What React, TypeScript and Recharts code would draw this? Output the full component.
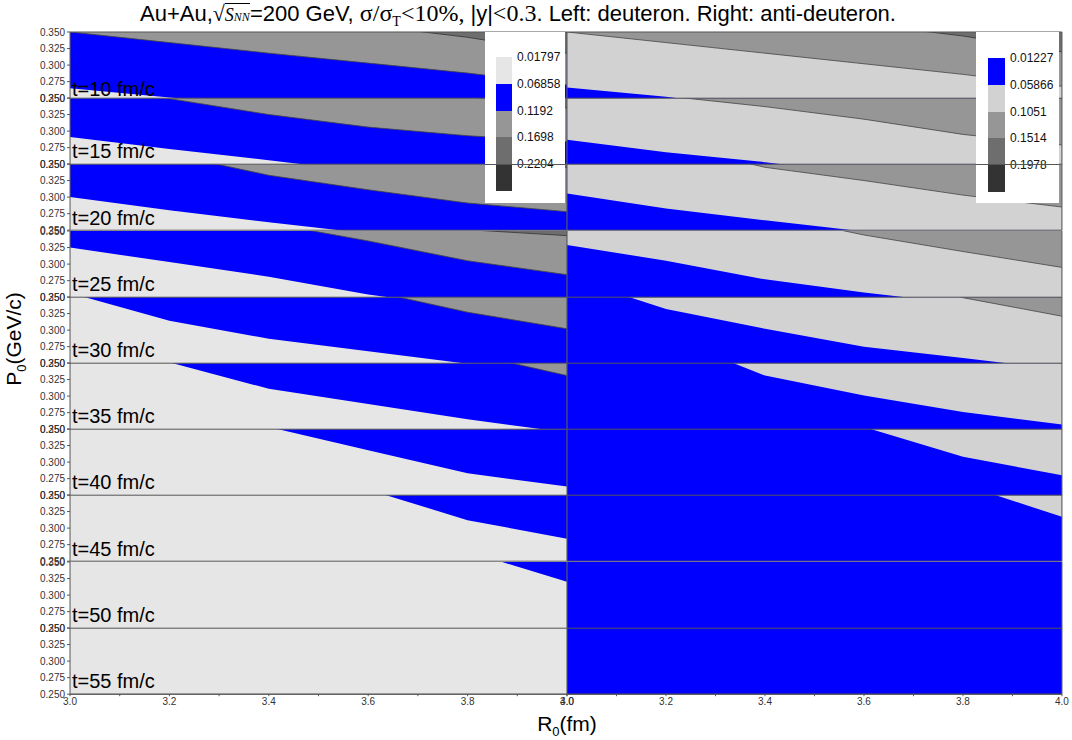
import React from 'react';
import { ComposedChart, Area, XAxis, YAxis, ReferenceLine } from 'recharts';

// ---------- data ----------
const R0 = [3.0, 3.2, 3.4, 3.6, 3.8, 4.0];
const R0_TICKS = [3.0, 3.1, 3.2, 3.3, 3.4, 3.5, 3.6, 3.7, 3.8, 3.9, 4.0];
const P0_TICKS = [0.25, 0.275, 0.3, 0.325, 0.35];
const TIMES = [10, 15, 20, 25, 30, 35, 40, 45, 50, 55];

type B = number[] | null;

// deuteron (left): contour boundaries P0(R0) per time slice
const dLightBlue: B[] = [
  [0.265, 0.251, 0.238, 0.224, 0.21, 0.2],
  [0.291, 0.273, 0.256, 0.238, 0.22, 0.2],
  [0.3, 0.28, 0.262, 0.245, 0.23, 0.215],
  [0.325, 0.303, 0.281, 0.254, 0.234, 0.215],
  [0.356, 0.314, 0.287, 0.268, 0.249, 0.235],
  [0.4, 0.351, 0.311, 0.288, 0.265, 0.245],
  [0.45, 0.4, 0.353, 0.318, 0.283, 0.263],
  [0.55, 0.5, 0.45, 0.358, 0.312, 0.284],
  [0.7, 0.6, 0.5, 0.42, 0.366, 0.32],
  null,
];
const dBlueGray: B[] = [
  [0.35, 0.334, 0.318, 0.303, 0.288, 0.27],
  [0.37, 0.349, 0.325, 0.306, 0.293, 0.284],
  [0.4, 0.365, 0.333, 0.311, 0.291, 0.278],
  [0.44, 0.41, 0.362, 0.335, 0.305, 0.284],
  [0.5, 0.45, 0.4, 0.36, 0.327, 0.302],
  [0.6, 0.55, 0.5, 0.42, 0.365, 0.331],
  null,
  null,
  null,
  null,
];
const dGrayDark: B[] = [
  [0.42, 0.4, 0.38, 0.36, 0.342, 0.318],
  [0.45, 0.42, 0.4, 0.37, 0.352, 0.335],
  [0.5, 0.45, 0.42, 0.39, 0.357, 0.345],
  [0.5, 0.45, 0.4, 0.37, 0.352, 0.343],
  null,
  null,
  null,
  null,
  null,
  null,
];

// anti-deuteron (right)
const aBlueLight: B[] = [
  [0.266, 0.252, 0.235, 0.22, 0.2, 0.19],
  [0.287, 0.268, 0.253, 0.235, 0.22, 0.2],
  [0.3056, 0.2828, 0.265, 0.248, 0.23, 0.21],
  [0.329, 0.305, 0.277, 0.257, 0.24, 0.22],
  [0.38, 0.332, 0.302, 0.275, 0.258, 0.24],
  [0.45, 0.39, 0.331, 0.301, 0.276, 0.257],
  [0.6, 0.5, 0.42, 0.353, 0.308, 0.28],
  [0.8, 0.7, 0.6, 0.5, 0.366, 0.317],
  null,
  null,
];
const aLightGray: B[] = [
  [0.35, 0.334, 0.318, 0.302, 0.286, 0.268],
  [0.39, 0.353, 0.337, 0.318, 0.295, 0.279],
  [0.42, 0.38, 0.345, 0.325, 0.303, 0.285],
  [0.45, 0.41, 0.375, 0.344, 0.319, 0.295],
  [0.6, 0.5, 0.45, 0.4, 0.349, 0.321],
  null,
  null,
  null,
  null,
  null,
];
const aGrayDark: B[] = [
  [0.5, 0.45, 0.4, 0.362, 0.344, 0.32],
  null,
  null,
  null,
  null,
  null,
  null,
  null,
  null,
  null,
];

const dLevels = ['0.01797', '0.06858', '0.1192', '0.1698', '0.2204'];
const aLevels = ['0.01227', '0.05866', '0.1051', '0.1514', '0.1978'];

// ---------- style ----------
const BLUE = '#0000ff';
const LIGHT_D = '#e6e6e6';
const LIGHT_A = '#d2d2d2';
const GRAY = '#969696';
const DARK = '#6e6e6e';
const DARKEST = '#333333';
const LINE = '#555555';

const FONT = "Arial, 'Liberation Sans', Helvetica, sans-serif";
const SERIF = "'Times New Roman', 'Liberation Serif', 'DejaVu Serif', serif";

const ROW_H = 66.2;
const TOP0 = 32;
const PAD = 6;
const SIDE = 15;
const LEFT_X = 70;
const MID_X = 567;
const RIGHT_X = 1062;

function Panel({ row, side }: { row: number; side: 'L' | 'R' }) {
  const left = side === 'L';
  const bounds = left
    ? [dLightBlue[row], dBlueGray[row], dGrayDark[row]]
    : [aBlueLight[row], aLightGray[row], aGrayDark[row]];
  const fills = left ? [BLUE, GRAY, DARK] : [LIGHT_A, GRAY, DARK];
  const strokes = ['none', '#444', '#333'];
  const data = R0.map((x, k) => {
    const o: any = { x };
    bounds.forEach((b, j) => {
      o['b' + j] = b ? b[k] : null;
    });
    return o;
  });
  const bottom = row === TIMES.length - 1;
  const plotW = left ? MID_X - LEFT_X : RIGHT_X - MID_X;
  const leftSpace = left ? LEFT_X : SIDE;
  const width = leftSpace + plotW + SIDE;
  const xH = bottom ? 24 : 0;
  const height = PAD + ROW_H + (bottom ? xH : PAD);
  return (
    <div style={{ position: 'absolute', left: left ? 0 : MID_X - SIDE, top: TOP0 + row * ROW_H - PAD }}>
      <ComposedChart
        width={width}
        height={height}
        data={data}
        margin={{ top: PAD, right: SIDE, bottom: bottom ? 0 : PAD, left: left ? 0 : SIDE }}
      >
        <XAxis
          type="number"
          dataKey="x"
          domain={[3, 4]}
          allowDataOverflow
          ticks={R0_TICKS}
          interval={0}
          hide={!bottom}
          height={xH}
          tickSize={2}
          tick={{ fontSize: 10, fill: '#333', fontFamily: FONT }}
          tickFormatter={(v: number) => (Math.round(v * 10) % 2 === 0 ? v.toFixed(1) : '')}
          axisLine={{ stroke: LINE }}
          tickLine={{ stroke: LINE }}
        />
        <YAxis
          type="number"
          domain={[0.25, 0.35]}
          allowDataOverflow
          ticks={P0_TICKS}
          interval={0}
          hide={!left}
          width={LEFT_X}
          tickSize={3}
          tick={{ fontSize: 10, fill: '#333', fontFamily: FONT }}
          tickFormatter={(v: number) => v.toFixed(3)}
          axisLine={{ stroke: LINE }}
          tickLine={{ stroke: LINE }}
        />
        <Area
          type="linear"
          dataKey={() => [0, 1]}
          fill={left ? LIGHT_D : BLUE}
          fillOpacity={1}
          stroke="none"
          isAnimationActive={false}
          dot={false}
          activeDot={false}
        />
        {bounds.map((b, j) =>
          b ? (
            <Area
              key={j}
              type="linear"
              dataKey={(d: any) => [d['b' + j], 1]}
              fill={fills[j]}
              fillOpacity={1}
              stroke={strokes[j]}
              strokeWidth={0.8}
              isAnimationActive={false}
              dot={false}
              activeDot={false}
            />
          ) : null
        )}
        <ReferenceLine y={0.25} stroke={LINE} />
        {row === 0 && <ReferenceLine y={0.35} stroke={LINE} />}
        <ReferenceLine x={4} stroke={LINE} />
      </ComposedChart>
    </div>
  );
}

function ColorBar({
  x,
  y,
  w,
  h,
  sx,
  sy,
  sw,
  sh,
  colors,
  labels,
}: {
  x: number;
  y: number;
  w: number;
  h: number;
  sx: number;
  sy: number;
  sw: number;
  sh: number;
  colors: string[];
  labels: string[];
}) {
  return (
    <div style={{ position: 'absolute', left: x, top: y, width: w, height: h, background: '#fff' }}>
      {colors.map((c, i) => (
        <div
          key={i}
          style={{ position: 'absolute', left: sx, top: sy + i * sh, width: sw, height: sh, background: c }}
        />
      ))}
      {labels.map((t, i) => (
        <div
          key={'l' + i}
          style={{
            position: 'absolute',
            left: sx + sw + 5,
            top: sy + i * sh - 8,
            fontSize: 12,
            lineHeight: '16px',
            fontFamily: FONT,
            color: '#111',
            whiteSpace: 'nowrap',
          }}
        >
          {t}
        </div>
      ))}
    </div>
  );
}

export default function App() {
  const rows = TIMES.map((_, i) => i).reverse();
  return (
    <div
      style={{
        position: 'fixed',
        left: 0,
        top: 0,
        width: 1072,
        height: 740,
        background: '#fff',
        overflow: 'hidden',
        fontFamily: FONT,
      }}
    >
      {rows.map((r) => (
        <Panel key={'R' + r} row={r} side="R" />
      ))}
      {rows.map((r) => (
        <Panel key={'L' + r} row={r} side="L" />
      ))}

      {TIMES.map((t, i) => {
        const base = TOP0 + (i + 1) * ROW_H - (i === 0 ? 2 : 6);
        return (
          <div
            key={'t' + t}
            style={{
              position: 'absolute',
              left: 72,
              top: base - 17,
              fontSize: 20,
              lineHeight: '20px',
              fontFamily: FONT,
              color: '#000',
              whiteSpace: 'nowrap',
            }}
          >
            {`t=${t} fm/c`}
          </div>
        );
      })}

      <ColorBar
        x={485}
        y={32}
        w={80}
        h={171}
        sx={11}
        sy={25}
        sw={16}
        sh={26.8}
        colors={[LIGHT_D, BLUE, GRAY, DARK, DARKEST]}
        labels={dLevels}
      />
      <ColorBar
        x={976}
        y={32}
        w={83}
        h={171}
        sx={12}
        sy={26}
        sw={17}
        sh={26.8}
        colors={[BLUE, LIGHT_A, GRAY, DARK, DARKEST]}
        labels={aLevels}
      />
      <div style={{ position: 'absolute', left: 485, top: TOP0 + 2 * ROW_H, width: 80, height: 1, background: LINE }} />
      <div style={{ position: 'absolute', left: 976, top: TOP0 + 2 * ROW_H, width: 83, height: 1, background: LINE }} />

      {/* title */}
      <div
        style={{
          position: 'absolute',
          left: 140,
          top: 2,
          fontSize: 22,
          lineHeight: '22px',
          fontFamily: FONT,
          color: '#000',
          whiteSpace: 'nowrap',
        }}
      >
        <span>Au+Au,</span>
        <span style={{ fontFamily: SERIF, fontSize: 22 }}>√</span>
        <span
          style={{
            fontFamily: SERIF,
            fontStyle: 'italic',
            fontSize: 18,
            borderTop: '1px solid #000',
            paddingTop: 1,
          }}
        >
          S<span style={{ fontSize: 12 }}>NN</span>
        </span>
        <span>=200 GeV, </span>
        <span style={{ fontFamily: SERIF, fontSize: 24 }}>
          σ/σ<span style={{ fontSize: 14, position: 'relative', top: 5 }}>T</span>&lt;10%,{' '}
        </span>
        <span>|y|</span>
        <span style={{ fontFamily: SERIF, fontSize: 24 }}>&lt;0.3</span>
        <span>. Left: deuteron. Right: anti-deuteron.</span>
      </div>

      {/* y label */}
      <div
        style={{
          position: 'absolute',
          left: 14 - 70,
          top: 339 - 12,
          width: 140,
          height: 24,
          lineHeight: '24px',
          textAlign: 'center',
          transform: 'rotate(-90deg)',
          fontSize: 21,
          fontFamily: FONT,
          color: '#000',
          whiteSpace: 'nowrap',
        }}
      >
        P<span style={{ fontSize: 13, position: 'relative', top: 5 }}>0</span>(GeV/c)
      </div>

      {/* x label */}
      <div
        style={{
          position: 'absolute',
          left: 467,
          width: 200,
          top: 713,
          lineHeight: '21px',
          textAlign: 'center',
          fontSize: 21,
          fontFamily: FONT,
          color: '#000',
          whiteSpace: 'nowrap',
        }}
      >
        R<span style={{ fontSize: 13, position: 'relative', top: 5 }}>0</span>(fm)
      </div>
    </div>
  );
}
